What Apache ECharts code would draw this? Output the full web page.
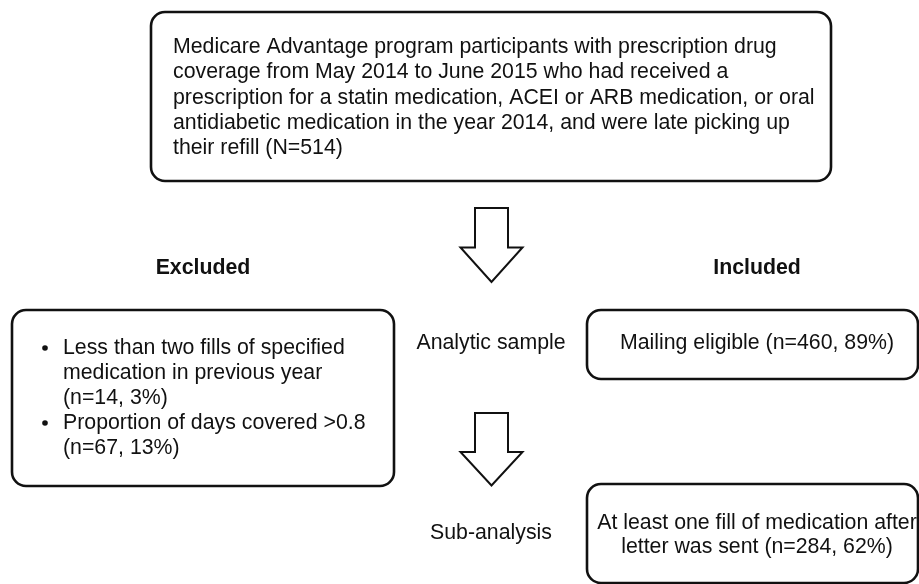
<!DOCTYPE html>
<html>
<head>
<meta charset="utf-8">
<script src="https://cdn.jsdelivr.net/npm/echarts@6/dist/echarts.min.js"></script>
<style>
html, body { margin: 0; padding: 0; background: #fff; }
#main { width: 919px; height: 584px; }
</style>
</head>
<body>
<div id="main"></div>
<script>
// flow chart texts
var populationLines = [
  'Medicare Advantage program participants with prescription drug',
  'coverage from May 2014 to June 2015 who had received a',
  'prescription for a statin medication, ACEI or ARB medication, or oral',
  'antidiabetic medication in the year 2014, and were late picking up',
  'their refill (N=514)'
];
var sideHeaders = ['Excluded', 'Included'];
var stageLabels = ['Analytic sample', 'Sub-analysis'];
var excludedItems = [
  ['Less than two fills of specified', 'medication in previous year', '(n=14, 3%)'],
  ['Proportion of days covered >0.8', '(n=67, 13%)']
];
var includedItems = [
  ['Mailing eligible (n=460, 89%)'],
  ['At least one fill of medication after', 'letter was sent (n=284, 62%)']
];

var FONT = 'Liberation Sans, Arial, sans-serif';
var INK = '#111';

function box(x, y, w, h) {
  return {
    type: 'rect',
    shape: { x: x, y: y, width: w, height: h, r: 14 },
    style: { fill: '#fff', stroke: INK, lineWidth: 2.6 }
  };
}
function txt(x, y, lines, opt) {
  opt = opt || {};
  return {
    type: 'text',
    x: x, y: y,
    style: {
      text: lines.join('\n'),
      fill: INK,
      font: (opt.bold ? 'bold ' : '') + '21.3px ' + FONT,
      lineHeight: opt.lh || 25,
      align: opt.align || 'center',
      verticalAlign: opt.va || 'middle'
    }
  };
}
function arrow(cx, top, neck, tip) {
  return {
    type: 'polygon',
    shape: {
      points: [
        [cx - 16.5, top], [cx + 16.5, top], [cx + 16.5, neck], [cx + 31, neck],
        [cx, tip], [cx - 31, neck], [cx - 16.5, neck]
      ]
    },
    style: { fill: '#fff', stroke: INK, lineWidth: 2 }
  };
}

var els = [];
// population box
els.push(box(151, 12, 680, 169));
els.push(txt(173, 34.5, populationLines, { align: 'left', va: 'top', lh: 25.3 }));
// arrows
els.push(arrow(491.5, 208, 247.5, 282));
els.push(arrow(491.5, 413, 452, 485.5));
// headers
els.push(txt(203, 268, [sideHeaders[0]], { bold: true }));
els.push(txt(757, 268, [sideHeaders[1]], { bold: true }));
// stage labels
els.push(txt(491, 343, [stageLabels[0]]));
els.push(txt(491, 533, [stageLabels[1]]));
// excluded box with bullets
els.push(box(12, 310, 382, 176));
var lineY = 348;
excludedItems.forEach(function (item) {
  els.push({ type: 'circle', shape: { cx: 45, cy: lineY, r: 2.8 }, style: { fill: INK } });
  els.push(txt(63, lineY - 12.5, item, { align: 'left', va: 'top' }));
  lineY += item.length * 25;
});
// included boxes
els.push(box(587, 310, 331, 69));
els.push(txt(757, 343, includedItems[0]));
els.push(box(587, 484, 331, 99));
els.push(txt(757, 535, includedItems[1], { lh: 24.5 }));

var chart = echarts.init(document.getElementById('main'));
chart.setOption({
  backgroundColor: '#fff',
  animation: false,
  graphic: { elements: els }
});
</script>
</body>
</html>
